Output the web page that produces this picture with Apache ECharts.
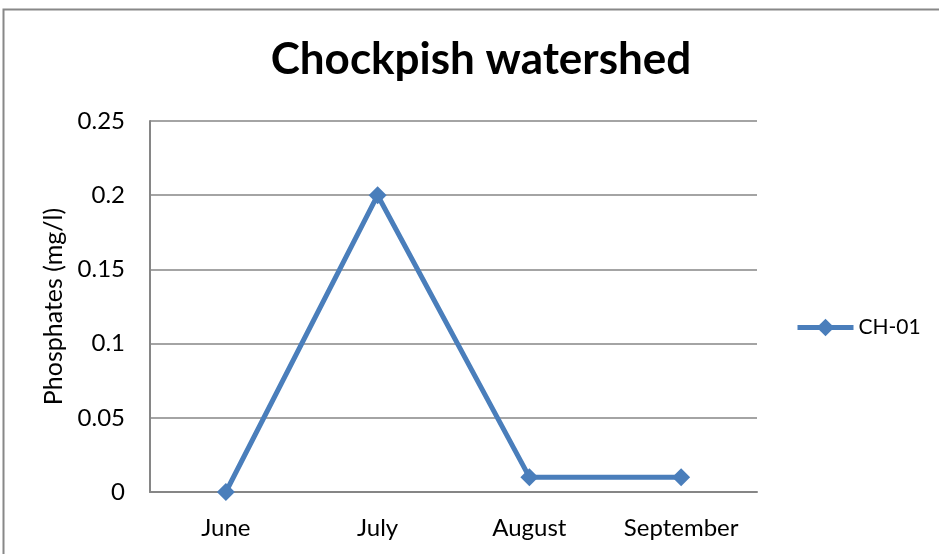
<!DOCTYPE html>
<html><head><meta charset="utf-8">
<script src="https://cdn.jsdelivr.net/npm/echarts@6/dist/echarts.min.js"></script>
<style>html,body{margin:0;padding:0;background:#fff}#c{width:939px;height:554px}</style>
</head><body><div id="c"></div>
<script>
const months = ['June', 'July', 'August', 'September'];
const ch01 = [0, 0.2, 0.01, 0.01];
const seriesName = 'CH-01';
const yTicks = [0, 0.05, 0.1, 0.15, 0.2, 0.25];

const F = 'Lato, "Open Sans", sans-serif';
const chart = echarts.init(document.getElementById('c'));
chart.setOption({
  animation: false,
  backgroundColor: '#fff',
  graphic: [{type: 'rect', shape: {x: 3.5, y: 9.5, width: 960, height: 600}, style: {fill: 'none', stroke: '#888', lineWidth: 2}, silent: true}],
  title: {text: 'Chockpish watershed', left: 476, top: 33, textAlign: 'center',
    textStyle: {fontFamily: F, fontSize: 44, fontWeight: 'bold', color: '#000'}},
  legend: {data: [seriesName], left: 790, top: 312, itemWidth: 56, itemHeight: 22, itemGap: 3,
    lineStyle: {width: 5},
    textStyle: {fontFamily: F, fontSize: 21, color: '#000'}},
  grid: {left: 150, right: 182, top: 121, bottom: 62},
  xAxis: {type: 'category', data: months, boundaryGap: true,
    axisLine: {lineStyle: {color: '#868686', width: 2}},
    axisTick: {show: false},
    axisLabel: {fontFamily: F, fontSize: 24, color: '#000', margin: 24}},
  yAxis: {type: 'value', min: 0, max: 0.25, interval: 0.05,
    name: 'Phosphates (mg/l)', nameLocation: 'middle', nameGap: 82,
    nameTextStyle: {fontFamily: F, fontSize: 25, color: '#000'},
    axisLine: {show: true, lineStyle: {color: '#868686', width: 2}},
    axisTick: {show: false},
    splitLine: {lineStyle: {color: '#868686', width: 1.5}},
    axisLabel: {fontFamily: F, fontSize: 24, color: '#000', margin: 25,
      formatter: v => { const t = yTicks.find(x => Math.abs(x - v) < 1e-9); return t === undefined ? '' : String(t); }}},
  series: [{name: seriesName, type: 'line', data: ch01,
    symbol: 'diamond', symbolSize: 18,
    lineStyle: {color: '#4A7EBB', width: 5},
    itemStyle: {color: '#4A7EBB'}}]
});
</script></body></html>
